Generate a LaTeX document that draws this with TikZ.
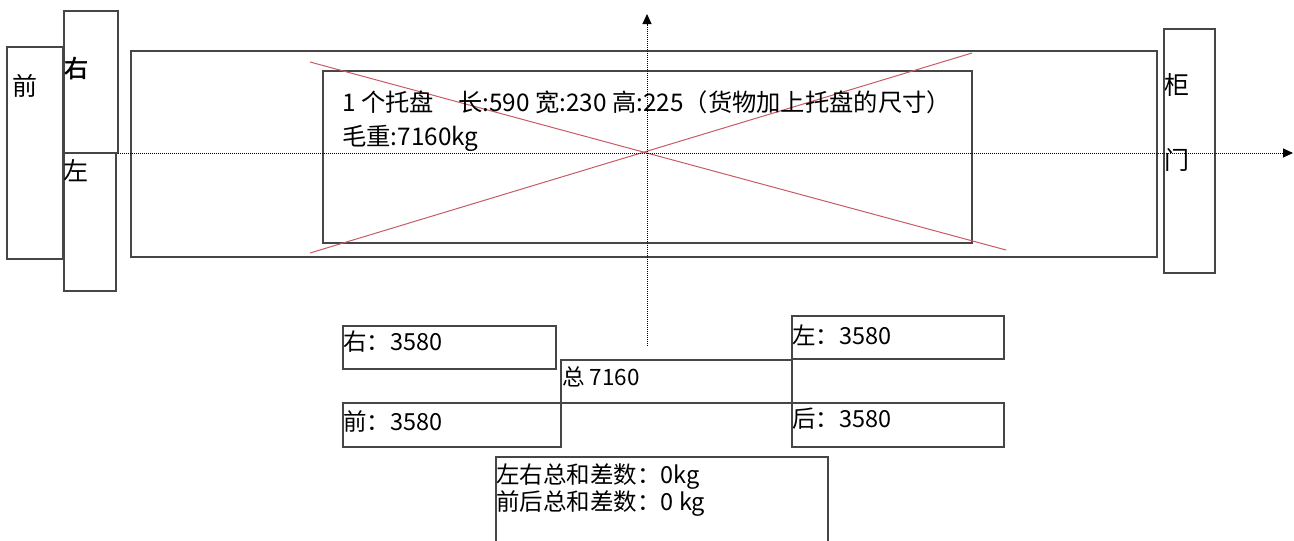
\documentclass[tikz,border=0pt]{standalone}
\usepackage{fontspec}
\setmainfont[AutoFakeBold=2]{Noto Sans CJK SC}
\usetikzlibrary{arrows.meta}
\definecolor{lineg}{RGB}{70,70,70}
\definecolor{crossred}{RGB}{200,90,100}
\begin{document}
\begin{tikzpicture}[x=1pt,y=-1pt,
  box/.style={draw=lineg, line width=1.3pt, anchor=north west, inner sep=0pt, outer sep=0pt},
  lbl/.style={inner sep=0pt, text=black},
  big/.style={lbl, font=\fontsize{25}{25}\selectfont},
  mid/.style={lbl, anchor=west, font=\fontsize{23.5}{23.5}\selectfont},
  ptext/.style={lbl, anchor=west, font=\fontsize{24.3}{24.3}\selectfont},
  axis/.style={densely dotted, line width=1pt, -{Triangle[length=10pt,width=9pt]}},
  cross/.style={draw=crossred, line width=1pt}]
\useasboundingbox (0,0) rectangle (1294,541);
% left boxes
\node[box, minimum width=56pt, minimum height=212pt] (front) at (7,47) {};
\node[box, minimum width=54pt, minimum height=142pt] (rside) at (64,11) {};
\node[box, minimum width=52pt, minimum height=138pt] (lside) at (64,153) {};
% container and pallet
\node[box, minimum width=1026pt, minimum height=206pt] (cont) at (131,51) {};
\node[box, minimum width=649pt, minimum height=172pt] (pallet) at (323,71) {};
% door
\node[box, minimum width=51pt, minimum height=244pt] (door) at (1164,29) {};
% red cross
\coordinate (c1) at (310,62);
\coordinate (c2) at (1006,250);
\coordinate (c3) at (310,253);
\coordinate (c4) at (972,53);
\draw[cross] (c1) -- (c2);
\draw[cross] (c3) -- (c4);
% axes
\coordinate (xe) at (1293,153);
\coordinate (ys) at (647,346);
\coordinate (ye) at (647,14);
\draw[axis] (rside.south east) -- (xe);
\draw[axis] (ys) -- (ye);
% left and door labels
\node[big] (tfront) at (25,86) {前};
\node[big, font=\fontsize{24}{24}\selectfont\bfseries] (tright) at (76,68) {右};
\node[big] (tleft) at (76,171) {左};
\node[big] (tgui) at (1177,85) {柜};
\node[big] (tmen) at (1177,160) {门};
% pallet text
\node[ptext] (pl1) at (342,102) {1 个托盘　长:590 宽:230 高:225（货物加上托盘的尺寸）};
\node[ptext] (pl2) at (342,138) {毛重:7160kg};
% bottom boxes
\node[box, minimum width=213pt, minimum height=43pt] (bR) at (343,326) {};
\node[box, minimum width=231pt, minimum height=43pt] (bT) at (561,360) {};
\node[box, minimum width=212pt, minimum height=43pt] (bL) at (792,316) {};
\node[box, minimum width=218pt, minimum height=44pt] (bF) at (343,403) {};
\node[box, minimum width=212pt, minimum height=44pt] (bB) at (792,403) {};
\node[box, minimum width=332pt, minimum height=100pt] (bD) at (496,457) {};
\node[mid] (tR) at (343,342) {右：3580};
\node[mid, font=\fontsize{22.5}{22.5}\selectfont] (tT) at (562,377) {总 7160};
\node[mid] (tL) at (792,335) {左：3580};
\node[mid] (tF) at (343,421) {前：3580};
\node[mid] (tB) at (792,419) {后：3580};
\node[mid] (tD1) at (496,477) {左右总和差数：0kg};
\node[mid] (tD2) at (496,504) {前后总和差数：0 kg};
\end{tikzpicture}
\end{document}
